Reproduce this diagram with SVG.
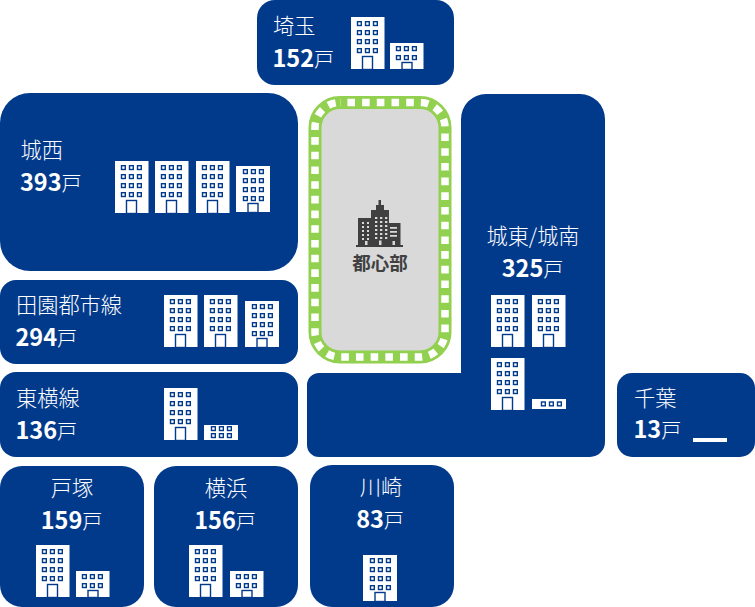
<svg xmlns="http://www.w3.org/2000/svg" width="755" height="607" viewBox="0 0 755 607">
<style>
.p{fill:#023a8b}
.b{fill:#fff}
.w,.d{fill:none;stroke:#023a8b;stroke-width:1.4}
text{font-family:"Noto Sans CJK JP","Noto Sans",sans-serif;fill:#fff}
.n{font-size:21.2px;font-weight:300}
.v{font-size:23.5px;font-weight:700}
.u{font-size:20px;font-weight:300}
.m{text-anchor:middle}
</style>
<defs>
<rect id="win" class="w" width="3.8" height="3.8"/>
<g id="row"><use href="#win" x="0"/><use href="#win" x="8"/><use href="#win" x="16"/></g>
<g id="tall"><rect class="b" width="33.500" height="52"/><use href="#row" x="6.5" y="4.700"/><use href="#row" x="6.5" y="13.700"/><use href="#row" x="6.5" y="22.700"/><use href="#row" x="6.5" y="31.700"/><rect class="d" x="11.500" y="39.500" width="10" height="13"/></g>
<g id="mid"><rect class="b" width="34" height="46"/><use href="#row" x="7.500" y="3.700"/><use href="#row" x="7.500" y="12.700"/><use href="#row" x="7.500" y="21.700"/><use href="#row" x="7.500" y="30.700"/><rect class="d" x="12" y="37.500" width="10" height="9"/></g>
<g id="small"><rect class="b" width="33.500" height="26"/><use href="#row" x="6.500" y="3.700"/><use href="#row" x="6.500" y="12.700"/><rect class="d" x="12" y="19.500" width="10" height="7"/></g>
<g id="short"><rect class="b" width="34" height="15"/><use href="#row" x="7.500" y="1.700"/><use href="#row" x="7.500" y="8.700"/></g>
<g id="low"><rect class="b" width="34" height="10"/><use href="#row" x="9.500" y="3"/></g>
</defs>
<g id="connectors"></g>
<g id="saitama"><rect class="p" x="257" y="0" width="197" height="85" rx="18"/><text class="n" x="273" y="34">埼玉</text><text x="272.500" y="67"><tspan class="v">152</tspan><tspan class="u">戸</tspan></text><use href="#tall" x="351" y="17"/><use href="#small" x="390" y="43"/></g>
<g id="josai"><rect class="p" x="0" y="93" width="298" height="178" rx="30"/><text class="n" x="20.500" y="158">城西</text><text x="20" y="191"><tspan class="v">393</tspan><tspan class="u">戸</tspan></text><use href="#tall" x="115" y="161"/><use href="#tall" x="155" y="161"/><use href="#tall" x="196" y="161"/><use href="#mid" x="236" y="166"/></g>
<g id="denentoshi"><rect class="p" x="0" y="280" width="298" height="84" rx="16"/><text class="n" x="16" y="313">田園都市線</text><text x="15.500" y="346"><tspan class="v">294</tspan><tspan class="u">戸</tspan></text><use href="#tall" x="164" y="295"/><use href="#tall" x="204" y="295"/><use href="#mid" x="245" y="301"/></g>
<g id="toyoko"><rect class="p" x="0" y="372" width="298" height="85" rx="16"/><text class="n" x="16" y="406">東横線</text><text x="15.500" y="439"><tspan class="v">136</tspan><tspan class="u">戸</tspan></text><use href="#tall" x="164" y="388"/><use href="#short" x="204" y="425"/></g>
<g id="toshin"><rect x="320" y="107" width="120" height="245" rx="20" fill="#d9d9d9"/><rect x="315" y="102.500" width="130" height="254.500" rx="25" fill="none" stroke="#92d050" stroke-width="13"/><rect x="315" y="102.500" width="130" height="254.500" rx="25" fill="none" stroke="#fff" stroke-width="7.500" stroke-dasharray="7.600 7.100" stroke-dashoffset="7.300"/>
<g fill="#404040"><rect x="378.500" y="200" width="2.500" height="6"/><rect x="376" y="205" width="8" height="6"/><rect x="371" y="210" width="18" height="36"/><rect x="358" y="218" width="14" height="28"/><rect x="388" y="223" width="12.500" height="23"/><rect x="356" y="245" width="47" height="2"/></g>
<g fill="#d9d9d9"><path d="M362 222h2v2h-2zM367 222h2v2h-2zM362 226h2v2h-2zM367 226h2v2h-2zM362 230h2v2h-2zM367 230h2v2h-2zM362 234h2v2h-2zM367 234h2v2h-2zM362 238h2v2h-2zM367 238h2v2h-2z"/><path d="M375 217h2.300v2h-2.300zM380 217h2.300v2h-2.300zM385 217h2.300v2h-2.300zM375 221h2.300v2h-2.300zM380 221h2.300v2h-2.300zM385 221h2.300v2h-2.300zM375 225h2.300v2h-2.300zM380 225h2.300v2h-2.300zM385 225h2.300v2h-2.300zM375 229h2.300v2h-2.300zM380 229h2.300v2h-2.300zM385 229h2.300v2h-2.300zM375 233h2.300v2h-2.300zM380 233h2.300v2h-2.300zM385 233h2.300v2h-2.300zM375 237h2.300v2h-2.300zM380 237h2.300v2h-2.300zM385 237h2.300v2h-2.300z"/><path d="M390 227h7v1.800h-7zM390 231h7v1.800h-7zM390 235h7v1.800h-7z"/><path d="M379 240.500h2.500v4.500h-2.500zM365 241h2.500v4h-2.500zM392.500 241h2.500v4h-2.500z"/></g>
<text x="380" y="269.500" class="m" font-size="18.500" font-weight="700" style="fill:#404040">都心部</text></g>
<g id="joto"><path class="p" d="M461 119a25 25 0 0 1 25-25h94a25 25 0 0 1 25 25V442a15 15 0 0 1-15 15H319a12 12 0 0 1-12-12V385a12 12 0 0 1 12-12H461Z"/><text class="n m" x="533" y="244">城東/城南</text><text class="m" x="532.500" y="277"><tspan class="v">325</tspan><tspan class="u">戸</tspan></text><use href="#tall" x="491" y="295"/><use href="#tall" x="532" y="295"/><use href="#tall" x="491" y="358"/><use href="#low" x="532" y="399"/></g>
<g id="chiba"><rect class="p" x="617" y="373" width="138" height="84" rx="15"/><text class="n" x="634" y="406">千葉</text><text x="633.500" y="438"><tspan class="v">13</tspan><tspan class="u">戸</tspan></text><rect class="b" x="693" y="438" width="34" height="4"/></g>
<g id="totsuka"><rect class="p" x="0" y="466" width="144" height="141" rx="22"/><text class="n m" x="72" y="496">戸塚</text><text class="m" x="71.500" y="529"><tspan class="v">159</tspan><tspan class="u">戸</tspan></text><use href="#tall" x="36" y="545"/><use href="#small" x="76" y="571"/></g>
<g id="yokohama"><rect class="p" x="154" y="466" width="144" height="141" rx="22"/><text class="n m" x="226" y="496">横浜</text><text class="m" x="225" y="529"><tspan class="v">156</tspan><tspan class="u">戸</tspan></text><use href="#tall" x="189" y="545"/><use href="#small" x="230" y="571"/></g>
<g id="kawasaki"><rect class="p" x="310" y="465" width="144" height="142" rx="22"/><text class="n m" x="381" y="495">川崎</text><text class="m" x="380" y="528"><tspan class="v">83</tspan><tspan class="u">戸</tspan></text><use href="#mid" x="363" y="555"/></g>
</svg>
